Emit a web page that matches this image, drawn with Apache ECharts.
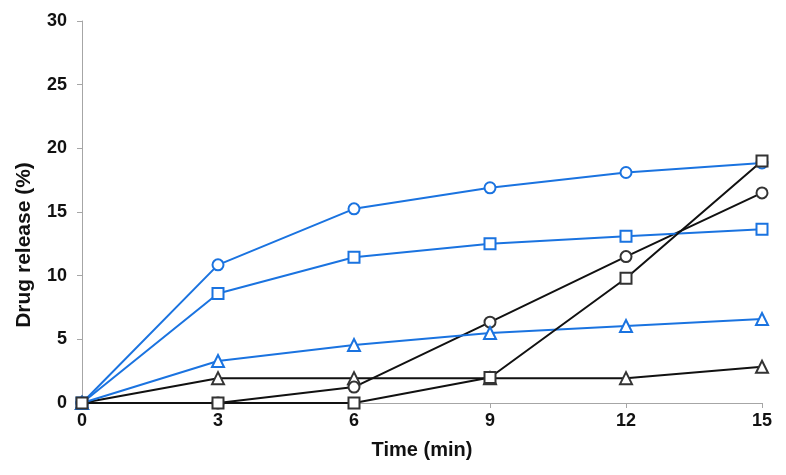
<!DOCTYPE html>
<html><head><meta charset="utf-8">
<script src="https://cdn.jsdelivr.net/npm/echarts@6/dist/echarts.min.js"></script>
<style>html,body{margin:0;padding:0;background:#fff}#c{width:786px;height:475px}</style>
</head><body><div id="c"></div>
<script>
const times = [0, 3, 6, 9, 12, 15];
const blueCircle = [0, 10.85, 15.25, 16.9, 18.1, 18.85];
const blueSquare = [0, 8.6, 11.45, 12.5, 13.1, 13.65];
const blueTriangle = [0, 3.3, 4.55, 5.5, 6.05, 6.6];
const blackCircle = [0, 0, 1.25, 6.35, 11.5, 16.5];
const blackSquare = [0, 0, 0, 2, 9.8, 19];
const blackTriangle = [0, 1.95, 1.95, 1.95, 1.95, 2.85];
const yTicks = [0, 5, 10, 15, 20, 25, 30];
const xTicks = [0, 3, 6, 9, 12, 15];

const BLUE = '#1a73e0', BLACK = '#111';
function mk(data, color, symbol, z) {
  return {
    type: 'line', data: times.map((t, i) => [t, data[i]]),
    symbol: symbol, symbolSize: symbol === 'emptyTriangle' ? 12 : 11,
    lineStyle: {color: color, width: 2}, itemStyle: {color: color === BLACK ? '#333' : color, borderWidth: 1},
    z: z, animation: false
  };
}
const font = 'Liberation Sans, Arial, sans-serif';
const chart = echarts.init(document.getElementById('c'));
chart.setOption({
  backgroundColor: '#fff',
  grid: {left: 82, right: 24, top: 21, bottom: 72},
  xAxis: {
    type: 'value', min: xTicks[0], max: xTicks[xTicks.length - 1], interval: 3,
    name: 'Time (min)', nameLocation: 'middle', nameGap: 37,
    nameTextStyle: {fontFamily: font, fontWeight: 'bold', fontSize: 20, color: '#111'},
    axisLine: {lineStyle: {color: '#a6a6a6', width: 1}},
    axisTick: {show: true, length: 5, lineStyle: {color: '#a6a6a6'}},
    axisLabel: {fontFamily: font, fontWeight: 'bold', fontSize: 18, color: '#111', margin: 9},
    splitLine: {show: false}
  },
  yAxis: {
    type: 'value', min: yTicks[0], max: yTicks[yTicks.length - 1], interval: 5,
    name: 'Drug release (%)', nameLocation: 'middle', nameGap: 47,
    nameTextStyle: {fontFamily: font, fontWeight: 'bold', fontSize: 21, color: '#111', padding: [0, 66, 0, 0]},
    axisLine: {show: true, lineStyle: {color: '#a6a6a6', width: 1}},
    axisTick: {show: true, length: 5, lineStyle: {color: '#a6a6a6'}},
    axisLabel: {fontFamily: font, fontWeight: 'bold', fontSize: 18, color: '#111', margin: 15},
    splitLine: {show: false}
  },
  series: [
    mk(blackTriangle, BLACK, 'emptyTriangle', 2),
    mk(blackCircle, BLACK, 'emptyCircle', 2),
    mk(blueTriangle, BLUE, 'emptyTriangle', 3),
    mk(blueCircle, BLUE, 'emptyCircle', 3),
    mk(blueSquare, BLUE, 'emptyRect', 3),
    mk(blackSquare, BLACK, 'emptyRect', 4)
  ]
});
</script></body></html>
